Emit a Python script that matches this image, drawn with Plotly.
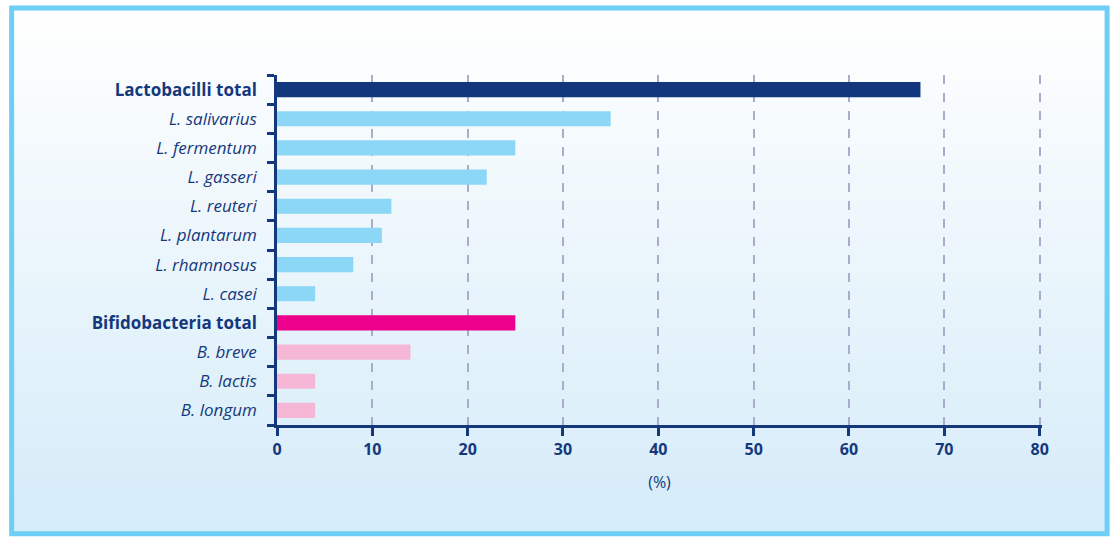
import plotly.graph_objects as go

# data
categories = ["Lactobacilli total", "L. salivarius", "L. fermentum", "L. gasseri",
              "L. reuteri", "L. plantarum", "L. rhamnosus", "L. casei",
              "Bifidobacteria total", "B. breve", "B. lactis", "B. longum"]
values = [67.5, 35, 25, 22, 12, 11, 8, 4, 25, 14, 4, 4]
is_total = [True, False, False, False, False, False, False, False, True, False, False, False]
genus = ["L"] * 8 + ["B"] * 4
x_ticks = [0, 10, 20, 30, 40, 50, 60, 70, 80]

NAVY = "#15387d"
colour_map = {("L", True): "#13377c", ("L", False): "#8dd7f6",
              ("B", True): "#ec008c", ("B", False): "#f6b7d6"}
bar_colours = [colour_map[(g, t)] for g, t in zip(genus, is_total)]
tick_text = [f"<b>{c}</b>" if t else f"<i>{c}</i>" for c, t in zip(categories, is_total)]

# x range runs a little past 80 so plotly keeps the dashed grid line at 80;
# the right margin shrinks by the same amount so 80 still lands at x=1040px
X_MAX = 80.25
W, H = 1116, 542
L, T, B = 277, 74.5, 117
pw = (1040 - L) * X_MAX / 80
R = W - L - pw
ph = H - T - B

def px(x):
    return (x - L) / pw

def py(y):
    return (H - B - y) / ph

fig = go.Figure(go.Bar(
    x=values, y=categories, orientation="h",
    marker=dict(color=bar_colours, line=dict(width=0)),
    width=0.52, hoverinfo="x+y",
))

##### background gradient + frame #####
shapes = []
n = 60
top, bottom = 10, 532
for i in range(n):
    f = i / (n - 1)
    r = int(255 + (213 - 255) * f)
    g = int(255 + (236 - 255) * f)
    b = int(255 + (249 - 255) * f)
    y0 = top + (bottom - top) * i / n
    y1 = top + (bottom - top) * (i + 1) / n + 0.5
    shapes.append(dict(type="rect", xref="paper", yref="paper", layer="below",
                       x0=px(13), x1=px(1106), y0=py(y0), y1=py(y1),
                       fillcolor=f"rgb({r},{g},{b})", line=dict(width=0)))
shapes.append(dict(type="rect", xref="paper", yref="paper", layer="above",
                   x0=px(11.5), x1=px(1107.5), y0=py(7.5), y1=py(534),
                   fillcolor="rgba(0,0,0,0)", line=dict(color="#6dcff6", width=5)))

fig.update_layout(
    width=W, height=H,
    margin=dict(l=L, r=R, t=T, b=B),
    paper_bgcolor="white", plot_bgcolor="rgba(0,0,0,0)",
    font=dict(family="Open Sans, Noto Sans, sans-serif", color=NAVY),
    shapes=shapes,
    showlegend=False,
    bargap=0.48,
)
fig.update_xaxes(
    range=[0, X_MAX], tickvals=x_ticks, ticktext=[f"<b>{v}</b>" for v in x_ticks],
    tickfont=dict(size=16, color=NAVY),
    showgrid=True, gridcolor="#a9acca", griddash="dash", gridwidth=1.5,
    zeroline=False,
    showline=True, linecolor=NAVY, linewidth=2.5,
    ticks="outside", ticklen=8, tickwidth=2.5, tickcolor=NAVY,
    title=dict(text="(%)", font=dict(size=16, color=NAVY), standoff=18),
    fixedrange=True,
)
fig.update_yaxes(
    autorange="reversed", tickvals=categories, ticktext=tick_text,
    tickfont=dict(size=17, color=NAVY),
    showgrid=False, zeroline=False,
    showline=True, linecolor=NAVY, linewidth=2.5,
    ticks="outside", ticklen=7, tickwidth=2.5, tickcolor=NAVY,
    tickson="boundaries", ticklabelstandoff=14,
    fixedrange=True,
)

# drop the default page margin so the figure sits at the window origin
fig.write_html("out.html", config={"displayModeBar": False},
               post_script="document.body.style.margin='0';")
